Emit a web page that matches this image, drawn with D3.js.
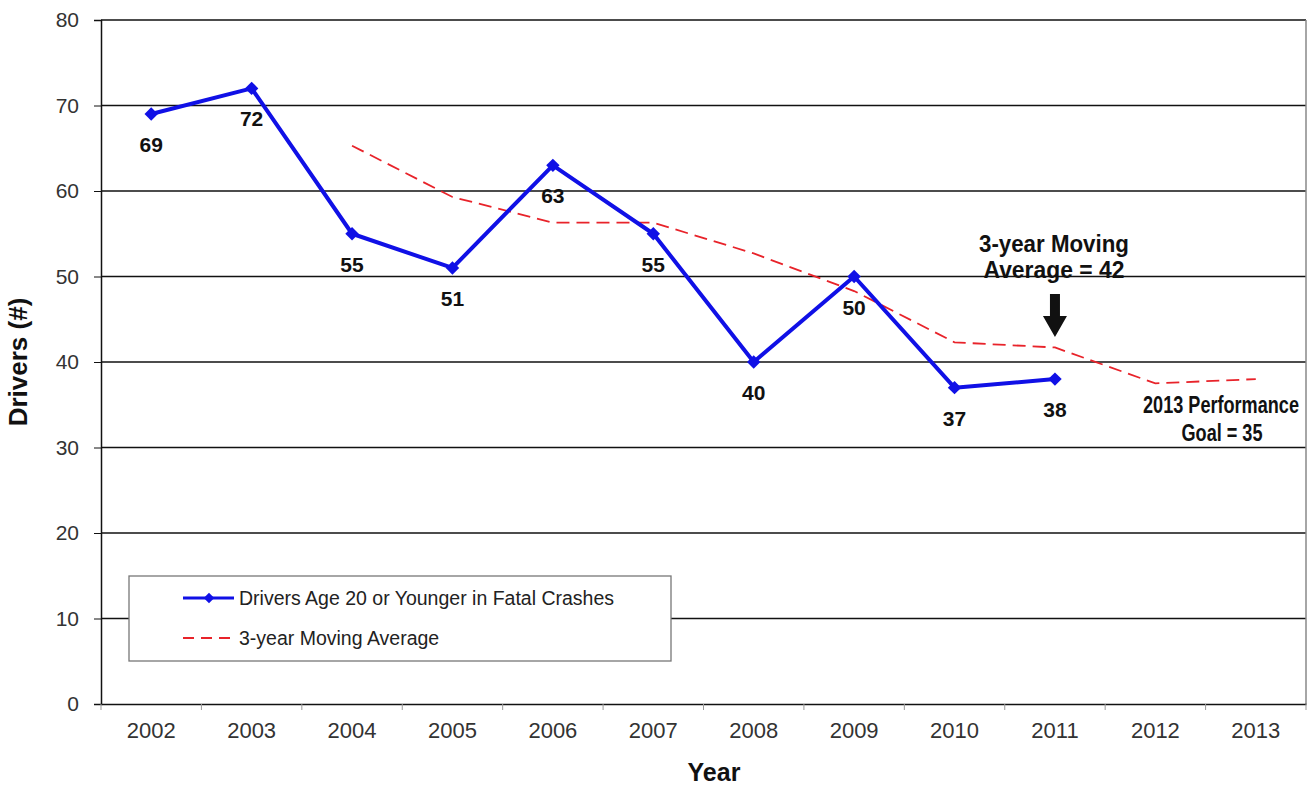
<!DOCTYPE html>
<html><head><meta charset="utf-8">
<script src="https://cdn.jsdelivr.net/npm/d3@7"></script>
<style>
html,body{margin:0;padding:0;background:#fff;}
svg{display:block;font-family:"Liberation Sans",Arial,sans-serif;}
</style></head>
<body>
<svg id="chart" width="1312" height="788"></svg>
<script>
const years = ["2002","2003","2004","2005","2006","2007","2008","2009","2010","2011","2012","2013"];
const driverYears = ["2002","2003","2004","2005","2006","2007","2008","2009","2010","2011"];
const driverValues = [69,72,55,51,63,55,40,50,37,38];
const avgYears = ["2004","2005","2006","2007","2008","2009","2010","2011","2012","2013"];
const avgValues = [65.3,59.3,56.3,56.3,52.7,48.3,42.3,41.7,37.5,38.0];
const yTicks = [0,10,20,30,40,50,60,70,80];
const seriesNames = ["Drivers Age 20 or Younger in Fatal Crashes","3-year Moving Average"];

const svg = d3.select("#chart");
const L=101, R=1306, T=20, B=704;
const x = d3.scaleBand().domain(years).range([L,R]).padding(0);
const xc = d => x(d)+x.bandwidth()/2;
const y = d3.scaleLinear().domain([0,80]).range([B,T]);
const BLUE="#1010e6", RED="#e8232a";

// gridlines
svg.append("g").selectAll("line").data(yTicks.filter(d=>d>0)).join("line")
  .attr("x1",L).attr("x2",R).attr("y1",d=>y(d)).attr("y2",d=>y(d))
  .attr("stroke","#111").attr("stroke-width",1.3);
// right border
svg.append("line").attr("x1",R).attr("x2",R).attr("y1",T).attr("y2",B).attr("stroke","#888").attr("stroke-width",1.5);

// y axis
const ya = svg.append("g").attr("transform",`translate(${L},0)`)
  .call(d3.axisLeft(y).tickValues(yTicks).tickSize(7).tickPadding(15));
ya.select(".domain").attr("stroke","#111").attr("stroke-width",1.5);
ya.selectAll(".tick line").attr("stroke","#111");
ya.selectAll(".tick text").attr("font-size",21).attr("fill","#333").attr("font-family","Liberation Sans, Arial, sans-serif");

// x axis
const xa = svg.append("g").attr("transform",`translate(0,${B})`)
  .call(d3.axisBottom(x).tickSize(0).tickPadding(18));
xa.select(".domain").attr("stroke","#111").attr("stroke-width",1.5);
xa.selectAll(".tick text").attr("font-size",22).attr("fill","#333").attr("font-family","Liberation Sans, Arial, sans-serif");
svg.append("g").selectAll("line").data(years.concat(["end"])).join("line")
  .attr("x1",(d,i)=>L+i*x.bandwidth()).attr("x2",(d,i)=>L+i*x.bandwidth())
  .attr("y1",B).attr("y2",B+6).attr("stroke","#999").attr("stroke-width",1);

// moving average
svg.append("path").datum(avgValues)
  .attr("d",d3.line().x((d,i)=>xc(avgYears[i])).y(d=>y(d)))
  .attr("fill","none").attr("stroke",RED).attr("stroke-width",1.8).attr("stroke-dasharray","13,7");

// drivers line
svg.append("path").datum(driverValues)
  .attr("d",d3.line().x((d,i)=>xc(driverYears[i])).y(d=>y(d)))
  .attr("fill","none").attr("stroke",BLUE).attr("stroke-width",4).attr("stroke-linejoin","round");
svg.append("g").selectAll("path").data(driverValues).join("path")
  .attr("transform",(d,i)=>`translate(${xc(driverYears[i])},${y(d)}) rotate(45)`)
  .attr("d",d3.symbol().type(d3.symbolSquare).size(90)).attr("fill",BLUE);

// data labels
svg.append("g").selectAll("text").data(driverValues).join("text")
  .attr("x",(d,i)=>xc(driverYears[i])).attr("y",d=>y(d)+38)
  .attr("text-anchor","middle").attr("font-size",21).attr("font-weight","bold").attr("fill","#111")
  .text(d=>d);

// condensed text helper: squeeze horizontally via transform so the bbox is exact
function squeezed(g, cx, cy, str, width){
  const t = g.append("text").attr("font-size",23).attr("font-weight","bold").attr("fill","#111")
    .attr("text-anchor","middle").text(str);
  const w = t.node().getComputedTextLength();
  t.attr("transform",`translate(${cx},${cy}) scale(${width/w},1)`);
}
const ax = xc("2011");
const ann = svg.append("g");
squeezed(ann, ax-1, 252, "3-year Moving", 150);
squeezed(ann, ax-1, 278, "Average = 42", 141);
svg.append("path").attr("d",`M${ax-5},294 L${ax+5},294 L${ax+5},316 L${ax+12},316 L${ax},337 L${ax-12},316 L${ax-5},316 Z`).attr("fill","#111");
squeezed(ann, 1221, 413, "2013 Performance", 156);
squeezed(ann, 1222, 441, "Goal = 35", 81);

// legend
const lg = svg.append("g");
lg.append("rect").attr("x",129).attr("y",576).attr("width",542).attr("height",85)
  .attr("fill","#fff").attr("stroke","#777").attr("stroke-width",1.3);
lg.append("line").attr("x1",183).attr("x2",234).attr("y1",598).attr("y2",598).attr("stroke",BLUE).attr("stroke-width",3);
lg.append("path").attr("transform","translate(209,598) rotate(45)").attr("d",d3.symbol().type(d3.symbolSquare).size(55)).attr("fill",BLUE);
lg.append("line").attr("x1",183).attr("x2",234).attr("y1",638).attr("y2",638).attr("stroke",RED).attr("stroke-width",1.8).attr("stroke-dasharray","11,7");
lg.selectAll("text").data(seriesNames).join("text")
  .attr("x",239).attr("y",(d,i)=>605+i*40).attr("font-size",19.5).attr("fill","#222").text(d=>d);

// axis titles
svg.append("text").attr("transform","translate(27,362) rotate(-90)").attr("text-anchor","middle")
  .attr("font-size",26).attr("font-weight","bold").attr("fill","#111").text("Drivers (#)");
svg.append("text").attr("x",714).attr("y",781).attr("text-anchor","middle")
  .attr("font-size",25).attr("font-weight","bold").attr("fill","#111").text("Year");
</script>
</body></html>
